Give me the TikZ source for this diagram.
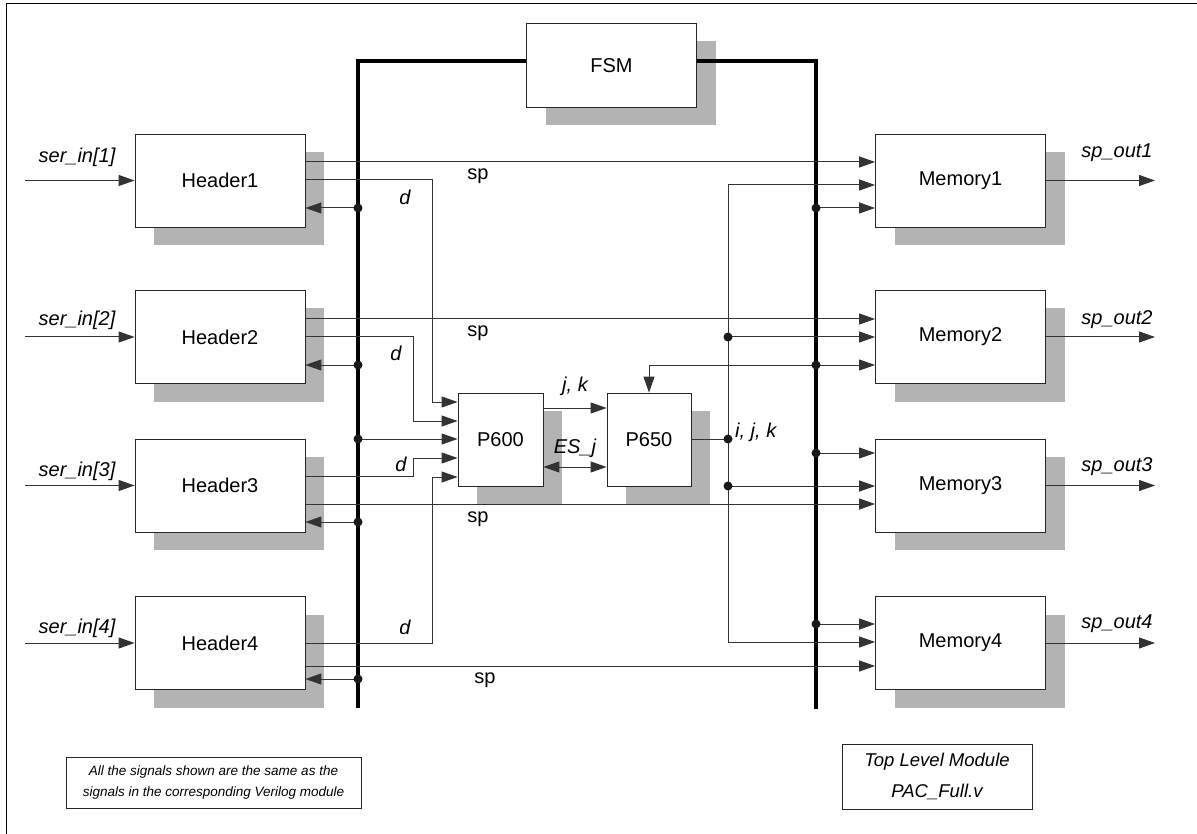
\documentclass[tikz,border=0pt]{standalone}
\usepackage{fontspec}
\setmainfont{Liberation Sans}
\usetikzlibrary{arrows.meta,shadows,calc}
\definecolor{shade}{HTML}{B3B3B3}
\definecolor{ln}{HTML}{333333}
\begin{document}
\begin{tikzpicture}[x=1pt,y=-1pt,
  font=\fontsize{20}{24}\selectfont,
  box/.style={draw=black!85, line width=0.8pt, fill=white, minimum width=170pt, minimum height=93pt, inner sep=0pt,
    general shadow={fill=shade, shadow xshift=19pt, shadow yshift=-18pt}},
  sbox/.style={box, minimum width=85pt},
  sig/.style={draw=ln, line width=1pt},
  arr/.style={sig, -{Triangle[length=16pt,width=11pt]}},
  darr/.style={sig, {Triangle[length=16pt,width=11pt]}-{Triangle[length=16pt,width=11pt]}},
  bus/.style={line width=4pt, draw=black},
  jdot/.style={circle, fill=black!90, inner sep=0pt, minimum size=9pt},
  lab/.style={inner sep=0pt, font=\fontsize{20}{24}\selectfont\itshape},
  plab/.style={inner sep=0pt, font=\fontsize{20}{24}\selectfont},
  note/.style={draw=black!85, line width=0.8pt, inner sep=0pt, align=center}
]
\useasboundingbox (0,0) rectangle (1197,834);
\draw[line width=1pt] (6.5,834) -- (6.5,4) -- (1197,4);

% boxes
\node[box, minimum height=84pt] (fsm) at (611.5,65.5) {FSM};
\node[box] (h1) at (220,180.5) {Header1};
\node[box] (h2) at (220,337) {Header2};
\node[box] (h3) at (220,485.5) {Header3};
\node[box] (h4) at (220,643) {Header4};
\node[box] (m1) at (960.5,180.5) {Memory1};
\node[box] (m2) at (960.5,337) {Memory2};
\node[box] (m3) at (960.5,485.5) {Memory3};
\node[box] (m4) at (960.5,643) {Memory4};
\node[sbox] (p600) at (500.5,439.5) {P600};
\node[sbox, minimum width=84pt] (p650) at (649,439.5) {P650};

% buses
\draw[bus] (358,708) -- (358,61) -- (fsm.west |- 0,61);
\draw[bus] (fsm.east |- 0,61) -- (816,61) -- (816,709);

% inputs and outputs
\foreach \n/\y in {1/180.5,2/337,3/485.5,4/643}{
  \coordinate (in\n) at (25,\y);
  \coordinate (out\n) at (1155,\y);
  \draw[arr] (in\n) -- (h\n.west |- in\n);
  \draw[arr] (m\n.east |- out\n) -- (out\n);
}
\node[lab] at (77,157) {ser\_in[1]};
\node[lab] at (77,320) {ser\_in[2]};
\node[lab] at (77,471) {ser\_in[3]};
\node[lab] at (77,628) {ser\_in[4]};
\node[lab] at (1117,153) {sp\_out1};
\node[lab] at (1117,320) {sp\_out2};
\node[lab] at (1117,467) {sp\_out3};
\node[lab] at (1117,624) {sp\_out4};

% junction coordinates on buses
\coordinate (b1) at (358,208);
\coordinate (b2) at (358,365);
\coordinate (b3) at (358,439);
\coordinate (b4) at (358,522);
\coordinate (b5) at (358,679);
\coordinate (r1) at (816,208);
\coordinate (r2) at (816,365);
\coordinate (r3) at (816,453);
\coordinate (r4) at (816,624);
\coordinate (v0) at (728,439);
\coordinate (v1) at (728,337);
\coordinate (v2) at (728,486);

% sp lines
\draw[arr] (h1.east |- 0,162) -- (m1.west |- 0,162);
\draw[arr] (h2.east |- 0,319) -- (m2.west |- 0,319);
\draw[arr] (h3.east |- 0,504) -- (m3.west |- 0,504);
\draw[arr] (h4.east |- 0,666) -- (m4.west |- 0,666);
\node[plab] at (478,176) {sp};
\node[plab] at (478,333) {sp};
\node[plab] at (478,519) {sp};
\node[plab] at (485,680) {sp};

% d lines
\draw[arr] (h1.east |- 0,180) -- (432,180) -- (432,402) -- (p600.west |- 0,402);
\draw[arr] (h2.east |- 0,337) -- (413,337) -- (413,421) -- (p600.west |- 0,421);
\draw[arr] (h3.east |- 0,476) -- (413,476) -- (413,458) -- (p600.west |- 0,458);
\draw[arr] (h4.east |- 0,643) -- (432,643) -- (432,477) -- (p600.west |- 0,477);
\node[lab] at (405,197) {d};
\node[lab] at (396,353) {d};
\node[lab] at (401,464) {d};
\node[lab] at (405,627) {d};

% feedback from left bus
\draw[arr] (b1) -- (h1.east |- b1);
\draw[arr] (b2) -- (h2.east |- b2);
\draw[arr] (b3) -- (p600.west |- b3);
\draw[arr] (b4) -- (h3.east |- b4);
\draw[arr] (b5) -- (h4.east |- b5);

% P600 - P650
\draw[arr] (p600.east |- 0,408) -- (p650.west |- 0,408);
\draw[darr] (p600.east |- 0,467) -- (p650.west |- 0,467);
\node[lab] at (575,386) {j, k};
\node[lab] at (575,448) {ES\_j};

% P650 output
\draw[sig] (p650.east |- v0) -- (v0);
\draw[arr] (v0) -- (728,185) -- (m1.west |- 0,185);
\draw[arr] (v0) -- (728,642) -- (m4.west |- 0,642);
\draw[arr] (v1) -- (m2.west |- v1);
\draw[arr] (v2) -- (m3.west |- v2);
\node[lab, anchor=west] at (735,432) {i, j, k};

% right bus to memories
\draw[arr] (r1) -- (m1.west |- r1);
\draw[arr] (r2) -- (m2.west |- r2);
\draw[arr] (r3) -- (m3.west |- r3);
\draw[arr] (r4) -- (m4.west |- r4);
\draw[arr] (r2) -- (649,365) -- (p650.north);

% dots
\foreach \c in {b1,b2,b3,b4,b5,r1,r2,r3,r4,v0,v1,v2}{
  \node[jdot] at (\c) {};
}

% notes
\node[note, minimum width=295pt, minimum height=51pt, font=\fontsize{13.5}{21}\selectfont\itshape] (note) at (213.5,783) {All the signals shown are the same as the\\signals in the corresponding Verilog module};
\node[note, minimum width=190pt, minimum height=65pt, font=\fontsize{18.5}{31}\selectfont\itshape] (title) at (937,776.5) {Top Level Module\\PAC\_Full.v};
\end{tikzpicture}
\end{document}
